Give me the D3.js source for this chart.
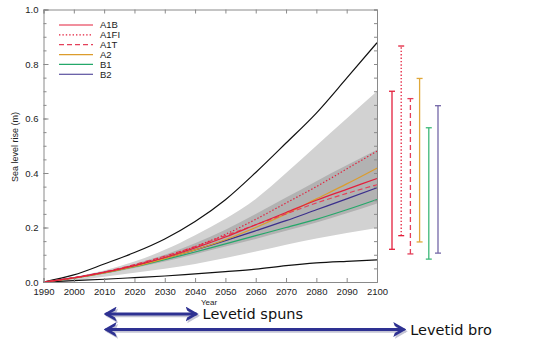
<!DOCTYPE html>
<html>
<head>
<meta charset="utf-8">
<script src="https://cdn.jsdelivr.net/npm/d3@7"></script>
<style>
    body { margin: 0; background: #fff; }
    .axis text { font-family: "Liberation Sans", Arial, sans-serif; font-size: 9.5px; fill: #222; }
    .axis path, .axis line { stroke: #8a8a8a; }
</style>
</head>
<body>
<div id="sea-level-chart"></div>
<script>

// years on the x axis (every decade)
const years = [1990, 2000, 2010, 2020, 2030, 2040, 2050, 2060, 2070, 2080, 2090, 2100];

// SRES scenarios
const scenarios = ["A1B", "A1FI", "A1T", "A2", "B1", "B2"];

// sea level rise in m
const a1b  = [0, 0.015, 0.035, 0.060, 0.090, 0.125, 0.165, 0.210, 0.255, 0.300, 0.340, 0.380];
const a1fi = [0, 0.015, 0.036, 0.062, 0.093, 0.130, 0.175, 0.230, 0.290, 0.350, 0.415, 0.480];
const a1t  = [0, 0.016, 0.037, 0.064, 0.095, 0.130, 0.170, 0.210, 0.250, 0.290, 0.325, 0.357];
const a2   = [0, 0.014, 0.033, 0.057, 0.086, 0.118, 0.155, 0.200, 0.250, 0.305, 0.360, 0.418];
const b1   = [0, 0.014, 0.033, 0.056, 0.082, 0.110, 0.140, 0.170, 0.200, 0.230, 0.265, 0.303];
const b2   = [0, 0.015, 0.035, 0.059, 0.087, 0.118, 0.152, 0.188, 0.225, 0.265, 0.305, 0.346];

// outer black lines
const outerHigh = [0, 0.026, 0.066, 0.108, 0.158, 0.222, 0.302, 0.402, 0.510, 0.620, 0.748, 0.878];
const outerLow  = [0, 0.005, 0.010, 0.016, 0.022, 0.030, 0.038, 0.047, 0.060, 0.070, 0.076, 0.081];

// light gray band
const lightHigh = [0, 0.018, 0.042, 0.075, 0.118, 0.172, 0.232, 0.305, 0.400, 0.500, 0.600, 0.700];
const lightLow  = [0, 0.006, 0.019, 0.034, 0.049, 0.066, 0.088, 0.112, 0.137, 0.160, 0.180, 0.198];

// dark gray band
const darkHigh = [0, 0.016, 0.038, 0.066, 0.100, 0.142, 0.192, 0.250, 0.310, 0.370, 0.428, 0.485];
const darkLow  = [0, 0.013, 0.030, 0.051, 0.075, 0.102, 0.130, 0.158, 0.188, 0.218, 0.252, 0.288];

// 2100 range bars per scenario
const rangeLow  = [0.120, 0.170, 0.103, 0.147, 0.084, 0.106];
const rangeHigh = [0.700, 0.866, 0.673, 0.747, 0.566, 0.647];

// tick values
const yMajor = [0, 0.2, 0.4, 0.6, 0.8, 1.0];
const yMinor = d3.range(0, 1.0001, 0.05);

// annotation arrows
const arrowLabels = ["Levetid spuns", "Levetid bro"];
const arrowFrom = [2010.5, 2010.5];
const arrowTo = [2040.5, 2109];

// styles per scenario
const colors = { A1B: "#e3203c", A1FI: "#e3203c", A1T: "#e4405a", A2: "#dc9c2c", B1: "#24a86a", B2: "#3b2f8c" };
const barColors = { A1B: "#e3203c", A1FI: "#e3203c", A1T: "#e4405a", A2: "#e0a83a", B1: "#3cb878", B2: "#7468a8" };
const dashes = { A1B: null, A1FI: "1.4,2", A1T: "5,3", A2: null, B1: null, B2: null };

const series = [a1b, a1fi, a1t, a2, b1, b2];

let width = 559,
    height = 341;

let svg = d3.select("#sea-level-chart")
    .append("svg")
    .attr("width", width)
    .attr("height", height);

// scales
let x = d3.scaleLinear()
    .domain([1990, 2100])
    .range([43.5, 377]);

let y = d3.scaleLinear()
    .domain([0, 1])
    .range([282, 9.5]);

let barX = d3.scalePoint()
    .domain(scenarios)
    .range([392, 438]);

// bands
let band = (hi, lo) => d3.area()
    .x((d, i) => x(years[i]))
    .y0((d, i) => y(lo[i]))
    .y1((d, i) => y(hi[i]))
    .curve(d3.curveMonotoneX)(years);

svg.append("path")
    .attr("d", band(lightHigh, lightLow))
    .attr("fill", "#d2d2d2");

svg.append("path")
    .attr("d", band(darkHigh, darkLow))
    .attr("fill", "#b2b2b2");

// lines
let line = d3.line()
    .x((d, i) => x(years[i]))
    .y(d => y(d))
    .curve(d3.curveMonotoneX);

[outerHigh, outerLow].forEach(vals => {
    svg.append("path")
        .attr("d", line(vals))
        .attr("fill", "none")
        .attr("stroke", "#111")
        .attr("stroke-width", 1.2);
});

// draw order: green and purple under the reds
[4, 5, 3, 2, 0, 1].forEach(i => {
    let s = scenarios[i];
    svg.append("path")
        .attr("d", line(series[i]))
        .attr("fill", "none")
        .attr("stroke", colors[s])
        .attr("stroke-width", 1.2)
        .attr("stroke-dasharray", dashes[s]);
});

// axes
svg.append("g")
    .attr("class", "axis")
    .attr("transform", "translate(43.5,0)")
    .call(d3.axisLeft(y).tickValues(yMajor).tickSize(-5).tickPadding(5).tickFormat(d3.format(".1f")));

svg.append("g")
    .attr("class", "axis")
    .attr("transform", "translate(43.5,0)")
    .call(d3.axisLeft(y).tickValues(yMinor).tickSize(-3).tickFormat(""))
    .select(".domain").remove();

svg.append("g")
    .attr("class", "axis")
    .attr("transform", "translate(377,0)")
    .call(d3.axisRight(y).tickValues(yMinor).tickSize(-3).tickFormat(""));

svg.append("g")
    .attr("class", "axis")
    .attr("transform", "translate(0,282)")
    .call(d3.axisBottom(x).tickValues(years).tickSize(-4).tickPadding(6).tickFormat(d3.format("d")));

svg.append("g")
    .attr("class", "axis")
    .attr("transform", "translate(0,9.5)")
    .call(d3.axisTop(x).tickValues(years).tickSize(-4).tickFormat(""));

// axis titles
svg.append("text")
    .attr("transform", "translate(18,147) rotate(-90)")
    .attr("text-anchor", "middle")
    .attr("font-family", "Liberation Sans, Arial, sans-serif")
    .attr("font-size", "9px")
    .attr("fill", "#222")
    .text("Sea level rise (m)");

svg.append("text")
    .attr("x", 201)
    .attr("y", 305)
    .attr("font-family", "Liberation Sans, Arial, sans-serif")
    .attr("font-size", "8px")
    .attr("fill", "#222")
    .text("Year");

// legend
let legend = svg.append("g")
    .selectAll("g")
    .data(scenarios)
    .enter()
    .append("g")
    .attr("transform", (d, i) => "translate(59," + (25 + i * 9.85) + ")");

legend.append("line")
    .attr("x1", 0)
    .attr("x2", 34)
    .attr("stroke", d => colors[d])
    .attr("stroke-width", 1.2)
    .attr("stroke-dasharray", d => dashes[d]);

legend.append("text")
    .attr("x", 41)
    .attr("y", 3.3)
    .attr("font-family", "Liberation Sans, Arial, sans-serif")
    .attr("font-size", "9.5px")
    .attr("fill", "#222")
    .text(d => d);

// range bars for 2100
let bars = svg.append("g")
    .selectAll("g")
    .data(scenarios)
    .enter()
    .append("g")
    .attr("stroke", d => barColors[d])
    .attr("stroke-width", 1.3);

bars.append("line")
    .attr("x1", d => barX(d))
    .attr("x2", d => barX(d))
    .attr("y1", (d, i) => y(rangeLow[i]))
    .attr("y2", (d, i) => y(rangeHigh[i]))
    .attr("stroke-dasharray", d => dashes[d]);

bars.append("line")
    .attr("x1", d => barX(d) - 3)
    .attr("x2", d => barX(d) + 3)
    .attr("y1", (d, i) => y(rangeLow[i]))
    .attr("y2", (d, i) => y(rangeLow[i]));

bars.append("line")
    .attr("x1", d => barX(d) - 3)
    .attr("x2", d => barX(d) + 3)
    .attr("y1", (d, i) => y(rangeHigh[i]))
    .attr("y2", (d, i) => y(rangeHigh[i]));

// arrow heads
let defs = svg.append("defs");
["shadow", "head"].forEach(id => {
    defs.append("marker")
        .attr("id", id)
        .attr("viewBox", "0 0 13 15")
        .attr("refX", 11)
        .attr("refY", 7.5)
        .attr("markerWidth", 13)
        .attr("markerHeight", 15)
        .attr("markerUnits", "userSpaceOnUse")
        .attr("orient", "auto-start-reverse")
        .append("path")
        .attr("d", "M0,0 L13,7.5 L0,15 L1.5,11 L7.5,7.5 L1.5,4 Z")
        .attr("fill", id === "head" ? "#2e3192" : "#c4c4d4");
});

let arrows = svg.append("g")
    .selectAll("g")
    .data(arrowLabels)
    .enter()
    .append("g")
    .attr("transform", (d, i) => "translate(0," + (314 + i * 15.5) + ")");

// soft drop shadow under each arrow
arrows.append("line")
    .attr("x1", (d, i) => x(arrowFrom[i]) + 1.5)
    .attr("x2", (d, i) => x(arrowTo[i]) + 1.5)
    .attr("y1", 1.8)
    .attr("y2", 1.8)
    .attr("stroke", "#c4c4d4")
    .attr("stroke-width", 3)
    .attr("marker-start", "url(#shadow)")
    .attr("marker-end", "url(#shadow)");

arrows.append("line")
    .attr("x1", (d, i) => x(arrowFrom[i]))
    .attr("x2", (d, i) => x(arrowTo[i]))
    .attr("stroke", "#2e3192")
    .attr("stroke-width", 3)
    .attr("marker-start", "url(#head)")
    .attr("marker-end", "url(#head)");

arrows.append("text")
    .attr("x", (d, i) => x(arrowTo[i]) + 6)
    .attr("y", 5)
    .attr("font-family", "DejaVu Sans, Verdana, sans-serif")
    .attr("font-size", "14.5px")
    .attr("fill", "#111")
    .text(d => d);

</script>
</body>
</html>
